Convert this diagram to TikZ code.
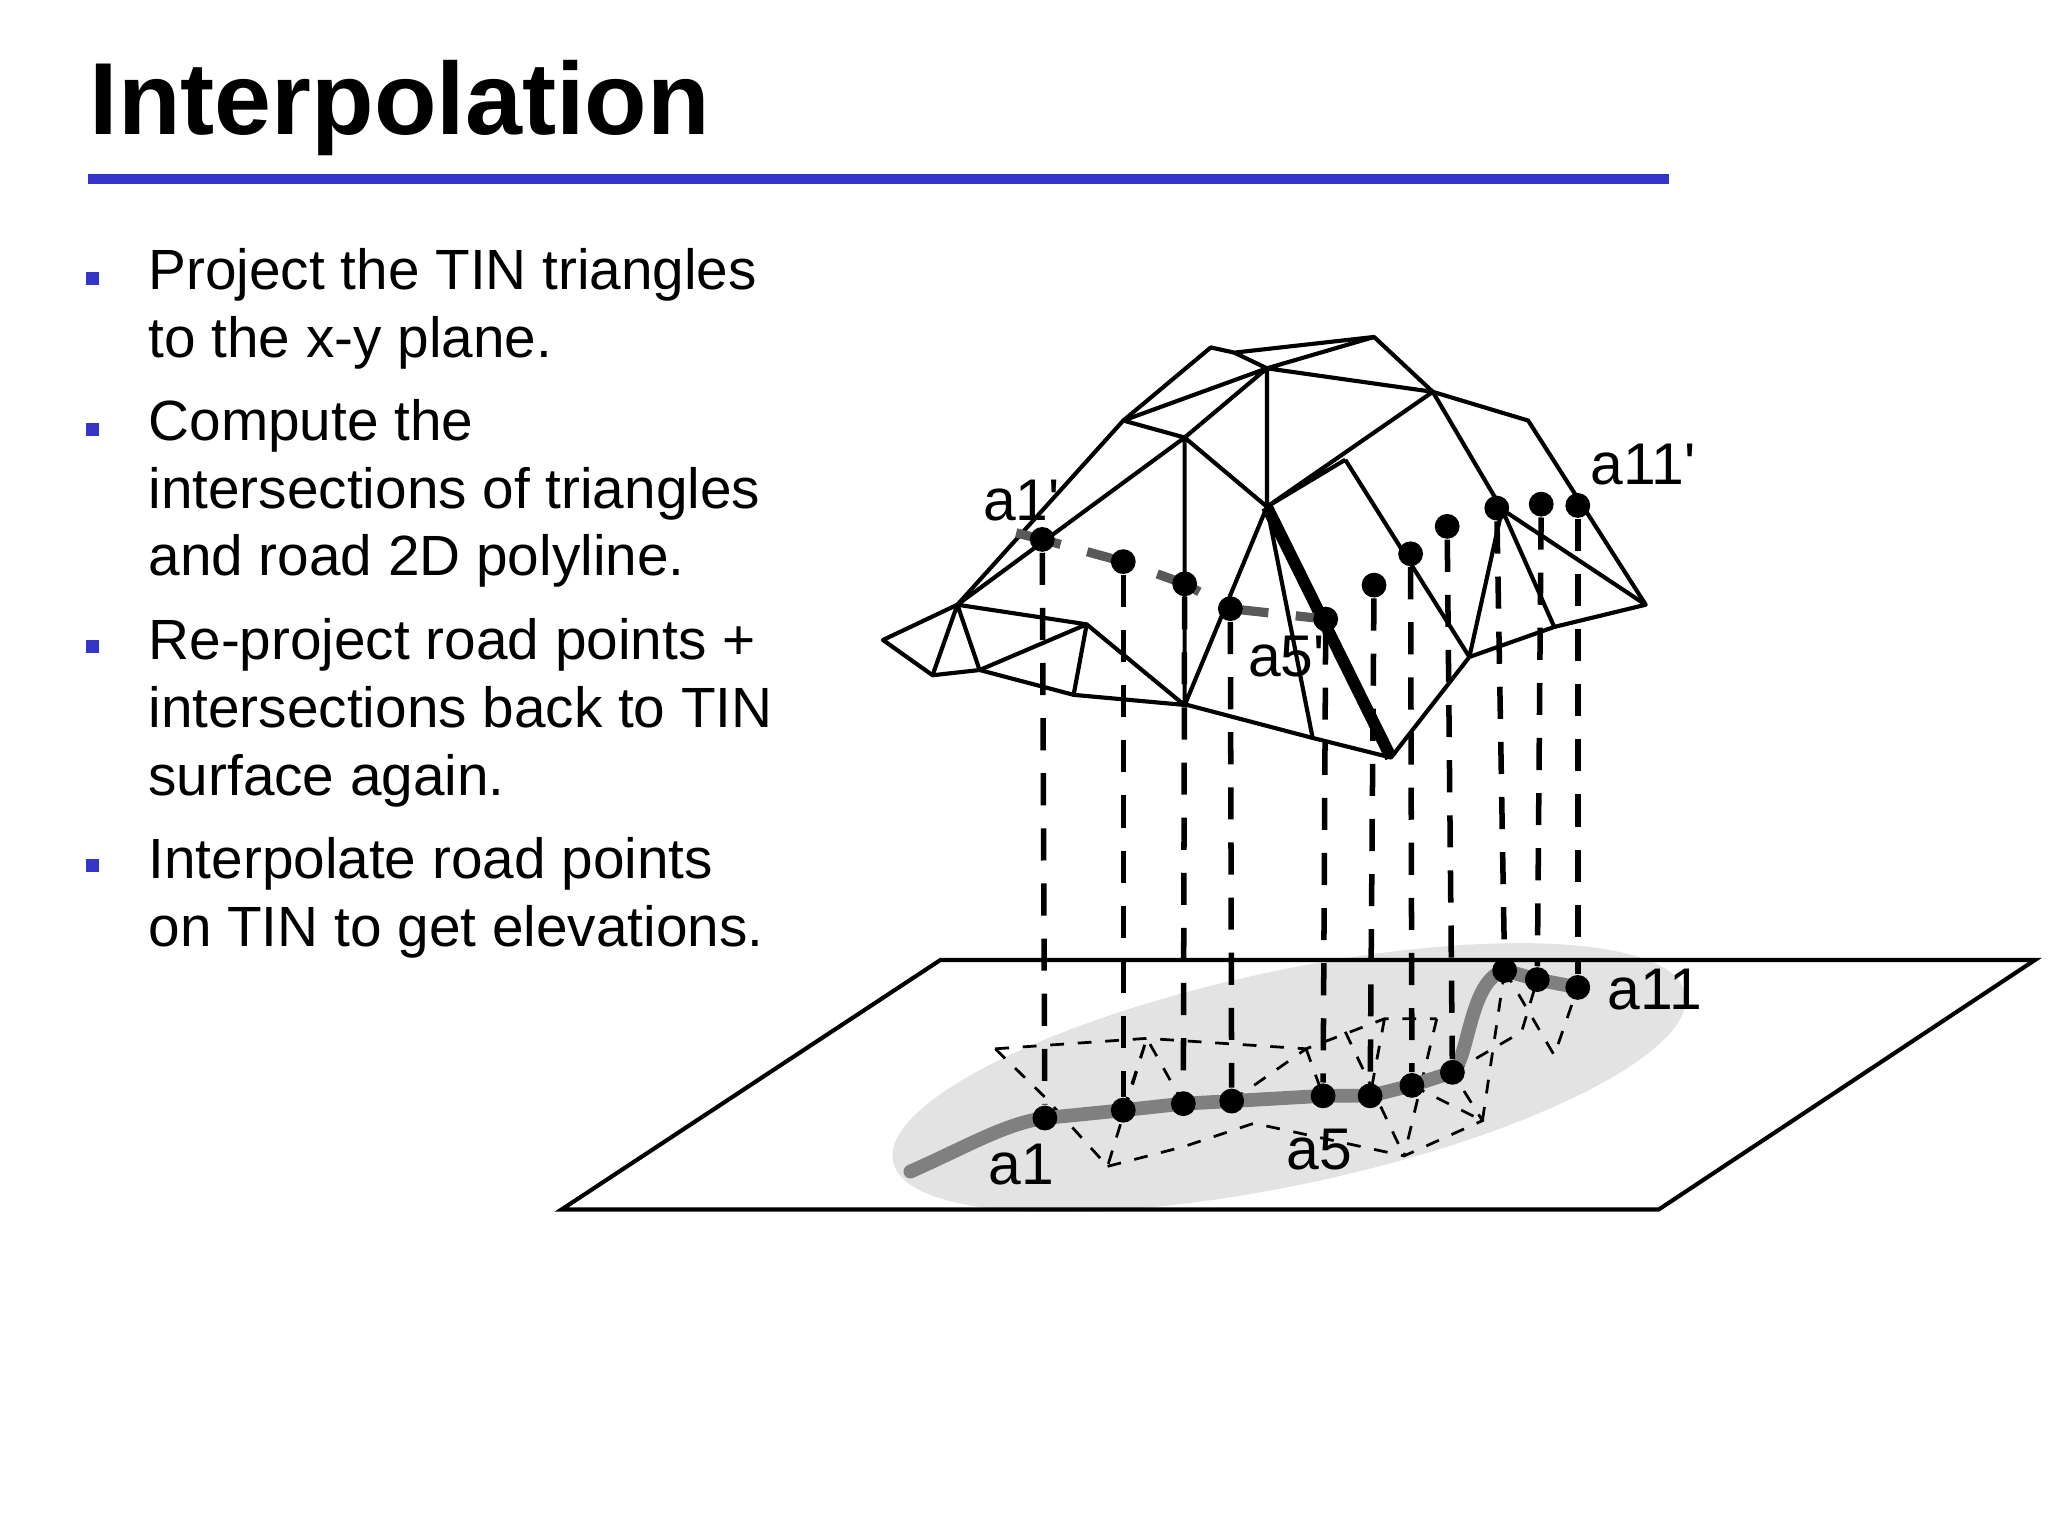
\documentclass[tikz,border=0pt]{standalone}
\usepackage{fontspec}
\setmainfont{Liberation Sans}
\definecolor{blueline}{RGB}{52,52,200}
\begin{document}
\begin{tikzpicture}[x=0.01cm,y=-0.01cm,
  dot/.style={circle,fill=black,inner sep=0pt,minimum size=0.19cm},
  tin/.style={line width=0.9pt,line join=round},
  proj/.style={dashed,line width=1.2pt,dash pattern=on 7pt off 5pt},
  body/.style={anchor=base west,inner sep=0pt,font=\fontsize{12.35}{14.8}\selectfont,align=left},
  lbl/.style={font=\fontsize{12.8}{14.8}\selectfont,inner sep=0pt}]
\useasboundingbox (0,0) rectangle (1568,1176);
\fill[white] (0,0) rectangle (1568,1176);
% title
\node[anchor=base west,inner sep=0pt,font=\fontsize{22.3}{27}\selectfont\bfseries] (title) at (68,103) {Interpolation};
\draw[blueline,line width=2pt] (67,137) -- (1278,137);
% bullets
\foreach \y in {213,329,495,663} \fill[blueline] (66,\y-5) rectangle (76,\y+5);
\node[body] (p1) at (113,274) {Project the TIN triangles\\to the x-y plane.};
\node[body] (p2) at (113,441) {Compute the\\intersections of triangles\\and road 2D polyline.};
\node[body] (p3) at (113,609) {Re-project road points +\\intersections back to TIN\\surface again.};
\node[body] (p4) at (113,725) {Interpolate road points\\on TIN to get elevations.};
% ground plane
\fill[gray!22,rotate around={12:(987,825)}] (987,825) ellipse [x radius=310,y radius=82];
\draw[line width=0.9pt] (430,926) -- (720,735) -- (1558,735) -- (1270,926) -- cycle;
% projected triangles (dashed)
\draw[dashed,line width=0.6pt] (762,803) -- (878,795) -- (1000,803) -- (1060,780) -- (1100,780)
  (762,803) -- (800,840) -- (848,893) -- (878,795) -- (906,845) -- (943,843)
  (848,893) -- (906,878) -- (960,860) -- (1075,885) -- (1135,858) -- (1112,821)
  (1000,803) -- (1013,839) (1060,780) -- (1049,839) (1100,780) -- (1075,885)
  (943,843) -- (1000,803) (1081,831) -- (1135,858) (1135,858) -- (1152,743)
  (1152,743) -- (1190,808) -- (1208,756) (1112,821) -- (1165,790) -- (1177,750)
  (860,850) -- (878,795) (1030,790) -- (1075,885);
% road
\draw[gray,line width=3pt,line cap=round] (697,897) .. controls (740,878) and (770,860) .. (800,856)
  -- (860,850) -- (906,845) -- (943,843) -- (1013,839) -- (1049,839) -- (1081,831) -- (1112,821)
  .. controls (1125,810) and (1125,750) .. (1152,743) -- (1177,750) -- (1208,756);
% TIN
\draw[tin] (927,266) -- (945,270) -- (1052,258) -- (1097,300) -- (1170,322) -- (1260,463) -- (1190,480)
  -- (1125,503) -- (1065,580) -- (1005,565) -- (910,540) -- (822,532) -- (750,513) -- (714,517)
  -- (676,490) -- (733,463) -- (860,322) -- cycle;
\draw[tin] (970,282) -- (860,322) (970,282) -- (907,335) (970,282) -- (970,388) (970,282) -- (1097,300)
  (970,282) -- (1052,258) (970,282) -- (945,270) (860,322) -- (907,335) -- (733,463)
  (907,335) -- (907,540) (907,335) -- (970,388) (970,388) -- (1097,300)
  (1097,300) -- (1150,390) -- (1260,463) (1150,390) -- (1190,480) (1150,390) -- (1125,503)
  (1030,352) -- (1125,503) (970,388) -- (1030,352) (1097,300) -- (1150,390)
  (733,463) -- (750,513) (733,463) -- (714,517) (733,463) -- (832,478) -- (822,532)
  (832,478) -- (907,540) (832,478) -- (750,513) (907,540) -- (970,388) (1005,565) -- (970,388);
\draw[line width=2.6pt] (970,388) -- (1065,580);
% road on TIN
\draw[gray!70!black,line width=2pt,dash pattern=on 10pt off 6pt] (778,408) -- (798,413) -- (860,430) -- (907,447) -- (942,466) -- (1015,474);
% points
\foreach \i/\tx/\ty/\bx/\by in {1/798/413/800/856,2/860/430/860/850,3/907/447/906/845,4/942/466/943/843,5/1015/474/1013/839,6/1052/448/1049/839,7/1080/424/1081/831,8/1108/403/1112/821,9/1146/389/1152/743,10/1180/386/1177/750,11/1208/387/1208/756}{
  \node[dot] (t\i) at (\tx,\ty) {};
  \node[dot] (b\i) at (\bx,\by) {};
  \draw[proj] (t\i) -- (b\i);
}
\node[lbl] (la1p) at (782,383) {a1\textquotesingle};
\node[lbl] (la11p) at (1258,356) {a11\textquotesingle};
\node[lbl] (la5p) at (985,503) {a5\textquotesingle};
\node[lbl] (la1) at (782,892) {a1};
\node[lbl] (la5) at (1010,880) {a5};
\node[lbl] (la11) at (1267,758) {a11};
\end{tikzpicture}
\end{document}
